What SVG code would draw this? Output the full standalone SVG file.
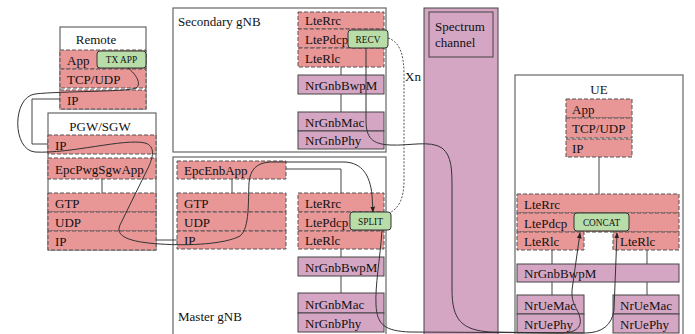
<svg xmlns="http://www.w3.org/2000/svg" width="695" height="334" viewBox="0 0 695 334" font-family="'Liberation Serif', 'DejaVu Serif', serif">
<style>
text{font-family:'Liberation Serif','DejaVu Serif',serif;font-size:13px;fill:#111}
.box{fill:#fff;stroke:#666;stroke-width:1.2}
.red{fill:#E99696;stroke:#555;stroke-width:1;stroke-dasharray:4 2}
.pur{fill:#D5A6C3;stroke:#444;stroke-width:1}
.grn{fill:#B8DDA9;stroke:#333;stroke-width:1}
.gt{font-size:9.3px;text-anchor:middle}
.ln{fill:none;stroke:#444;stroke-width:1}
.cv{fill:none;stroke:#333;stroke-width:1}
.xn{fill:none;stroke:#555;stroke-width:1;stroke-dasharray:2 1.5}
</style>
<defs>
<marker id="ah" viewBox="0 0 10 10" refX="9" refY="5" markerWidth="6" markerHeight="6" orient="auto">
<path d="M0,1 L10,5 L0,9 Z" fill="#222"/>
</marker>
</defs>
<rect width="695" height="334" fill="#fff"/>

<g id="spectrum">
<rect class="pur" x="424" y="8" width="74" height="330"/>
<rect class="pur" x="429" y="12" width="64" height="45"/>
<text x="435" y="31">Spectrum</text>
<text x="435" y="47">channel</text>
</g>

<g id="remote">
<rect class="box" x="60" y="27" width="86" height="82"/>
<text x="96" y="44" text-anchor="middle">Remote</text>
<rect class="red" x="60" y="50" width="86" height="19"/>
<text x="67" y="65">App</text>
<rect class="red" x="60" y="69" width="86" height="19"/>
<text x="67" y="84">TCP/UDP</text>
<rect class="red" x="60" y="90" width="86" height="19"/>
<text x="67" y="105">IP</text>
</g>

<g id="pgw">
<rect class="box" x="48" y="113" width="108" height="137"/>
<text x="100" y="131" text-anchor="middle">PGW/SGW</text>
<rect class="red" x="48" y="135" width="108" height="19"/>
<text x="55" y="150">IP</text>
<rect class="red" x="48" y="158" width="108" height="21"/>
<text x="55" y="174">EpcPwgSgwApp</text>
<rect class="red" x="48" y="193" width="108" height="19"/>
<text x="55" y="208">GTP</text>
<rect class="red" x="48" y="212" width="108" height="19"/>
<text x="55" y="227">UDP</text>
<rect class="red" x="48" y="231" width="108" height="19"/>
<text x="55" y="246">IP</text>
</g>

<g id="secondary-gnb">
<rect class="box" x="173" y="8" width="213" height="144"/>
<text x="178" y="26">Secondary gNB</text>
<rect class="red" x="298" y="12" width="86" height="17"/>
<text x="305" y="25">LteRrc</text>
<rect class="red" x="298" y="29" width="86" height="19"/>
<text x="305" y="44">LtePdcp</text>
<rect class="red" x="298" y="48" width="86" height="19"/>
<text x="305" y="63">LteRlc</text>
<rect class="pur" x="298" y="75" width="86" height="19"/>
<text x="305" y="90">NrGnbBwpM</text>
<rect class="pur" x="298" y="112" width="86" height="19"/>
<text x="305" y="127">NrGnbMac</text>
<rect class="pur" x="298" y="131" width="86" height="18"/>
<text x="305" y="145">NrGnbPhy</text>
</g>

<g id="master-gnb">
<rect class="box" x="173" y="157" width="213" height="181"/>
<text x="178" y="321">Master gNB</text>
<rect class="red" x="177" y="161" width="109" height="18"/>
<text x="184" y="175">EpcEnbApp</text>
<rect class="red" x="177" y="193" width="109" height="19"/>
<text x="184" y="208">GTP</text>
<rect class="red" x="177" y="212" width="109" height="19"/>
<text x="184" y="227">UDP</text>
<rect class="red" x="177" y="231" width="109" height="18"/>
<text x="184" y="245">IP</text>
<rect class="red" x="298" y="193" width="86" height="19"/>
<text x="305" y="208">LteRrc</text>
<rect class="red" x="298" y="212" width="86" height="19"/>
<text x="305" y="227">LtePdcp</text>
<rect class="red" x="298" y="231" width="86" height="18"/>
<text x="305" y="245">LteRlc</text>
<rect class="pur" x="298" y="257" width="86" height="19"/>
<text x="305" y="272">NrGnbBwpM</text>
<rect class="pur" x="298" y="293" width="86" height="20"/>
<text x="305" y="309">NrGnbMac</text>
<rect class="pur" x="298" y="313" width="86" height="19"/>
<text x="305" y="328">NrGnbPhy</text>
</g>

<g id="ue">
<rect class="box" x="515" y="75" width="168" height="263"/>
<text x="599" y="94" text-anchor="middle">UE</text>
<rect class="red" x="566" y="99" width="66" height="19"/>
<text x="572" y="114">App</text>
<rect class="red" x="566" y="118" width="66" height="20"/>
<text x="572" y="133">TCP/UDP</text>
<rect class="red" x="566" y="139" width="66" height="18"/>
<text x="572" y="153">IP</text>
<rect class="red" x="517" y="194" width="162" height="19"/>
<text x="524" y="209">LteRrc</text>
<rect class="red" x="517" y="213" width="162" height="19"/>
<text x="524" y="228">LtePdcp</text>
<rect class="red" x="517" y="232" width="67" height="18"/>
<text x="524" y="246">LteRlc</text>
<rect class="red" x="613" y="232" width="66" height="18"/>
<text x="620" y="246">LteRlc</text>
<rect class="pur" x="517" y="264" width="162" height="18"/>
<text x="524" y="278">NrGnbBwpM</text>
<rect class="pur" x="517" y="295" width="67" height="19"/>
<text x="524" y="310">NrUeMac</text>
<rect class="pur" x="517" y="314" width="67" height="19"/>
<text x="524" y="329">NrUePhy</text>
<rect class="pur" x="613" y="295" width="66" height="19"/>
<text x="620" y="310">NrUeMac</text>
<rect class="pur" x="613" y="314" width="66" height="19"/>
<text x="620" y="329">NrUePhy</text>
</g>

<g id="connectors">
<polyline class="ln" points="60,99 32,99 32,144 48,144"/>
<line class="ln" x1="156" y1="240" x2="177" y2="240"/>
<line class="ln" x1="102" y1="179" x2="102" y2="193"/>
<line class="ln" x1="232" y1="179" x2="232" y2="193"/>
<polyline class="ln" points="286,169 341,169 341,193"/>
<line class="ln" x1="341" y1="249" x2="341" y2="257"/>
<line class="ln" x1="341" y1="276" x2="341" y2="293"/>
<line class="ln" x1="341" y1="67" x2="341" y2="75"/>
<line class="ln" x1="341" y1="94" x2="341" y2="112"/>
<line class="ln" x1="599" y1="157" x2="599" y2="194"/>
<line class="ln" x1="552" y1="250" x2="552" y2="264"/>
<line class="ln" x1="552" y1="282" x2="552" y2="295"/>
<line class="ln" x1="647" y1="250" x2="647" y2="264"/>
<line class="ln" x1="647" y1="282" x2="647" y2="295"/>
<path class="xn" d="M388,38 C400,42 404,55 404,75 L404,180 C404,200 398,208 391,212"/>
<text x="405" y="81">Xn</text>
</g>

<g id="tx-app">
<rect class="grn" x="97" y="51" width="49" height="17" rx="3"/>
<text class="gt" x="121.5" y="63">TX APP</text>
</g>
<g id="recv">
<rect class="grn" x="348" y="30" width="40" height="18" rx="3"/>
<text class="gt" x="368" y="42.5">RECV</text>
</g>
<g id="split">
<rect class="grn" x="350" y="212" width="41" height="18" rx="3"/>
<text class="gt" x="370.5" y="224.5">SPLIT</text>
</g>
<g id="concat">
<rect class="grn" x="574" y="213" width="55" height="18" rx="3"/>
<text class="gt" x="601.5" y="225.5">CONCAT</text>
</g>

<g id="data-paths">
<path class="cv" marker-end="url(#ah)" d="M128,68 C136,74 142,84 136,88 C128,92 60,91 35,94 C12,97 12,150 35,152 C70,154 125,138 145,143 C156,146 153,158 148,168 L120,225 C115,236 128,242 160,244 C190,246 225,244 240,236 C250,228 248,200 249,183 C250,170 256,163 270,162 L345,162 C362,163 370,175 372,195 L373,212"/>
<path class="cv" marker-end="url(#ah)" d="M366,48 L366,120 C366,138 372,144 390,145 C410,146 430,140 442,148 C452,156 452,170 452,190 L452,290 C452,320 462,330 490,332 L560,333 C575,333 582,328 580,318 C578,308 571,305 572,290 L580,233"/>
<path class="cv" marker-end="url(#ah)" d="M382,230 C380,260 375,285 376,305 C377,325 385,331 410,332 L585,333 C602,333 612,325 614,310 L617,233"/>
</g>
</svg>
